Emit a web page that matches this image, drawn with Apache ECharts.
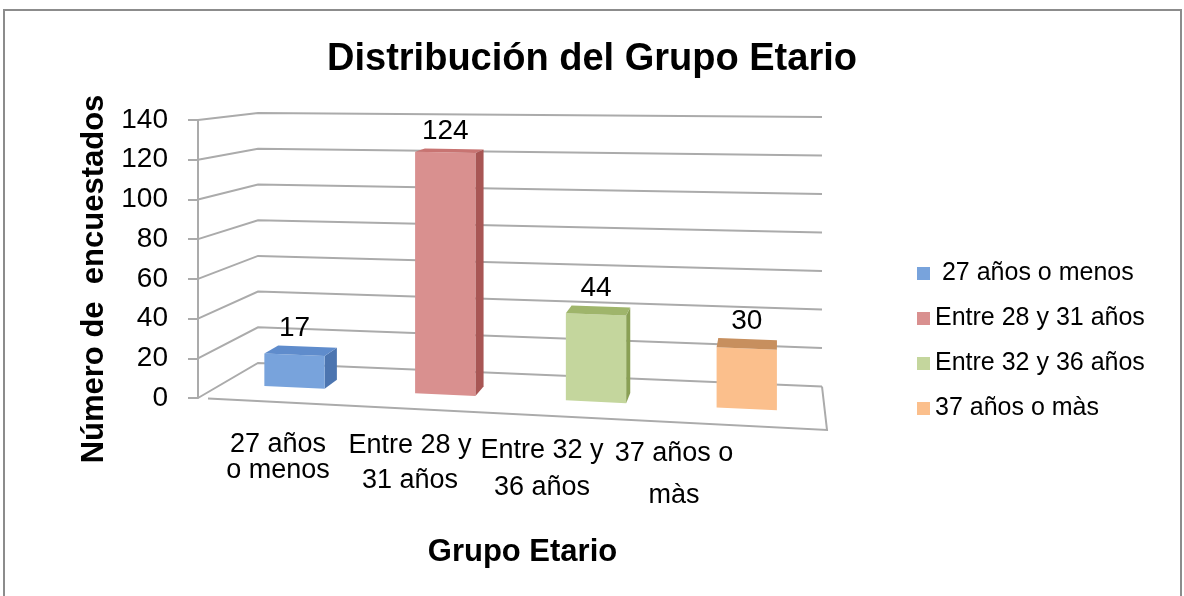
<!DOCTYPE html>
<html>
<head>
<meta charset="utf-8">
<script src="https://cdn.jsdelivr.net/npm/echarts@6/dist/echarts.min.js"></script>
<style>
  html, body { margin: 0; padding: 0; background: #fff; }
  #chart { width: 1184px; height: 596px; }
</style>
</head>
<body>
<div id="chart"></div>
<script>
var categories = ['27 años\no menos', 'Entre 28 y\n31 años', 'Entre 32 y\n36 años', '37 años o\nmàs'];
var legendNames = [' 27 años o menos', 'Entre 28 y 31 años', 'Entre 32 y 36 años', '37 años o màs'];
var values = [17, 124, 44, 30];
var yTicks = [0, 20, 40, 60, 80, 100, 120, 140];

var FONT = 'Liberation Sans, Arial, sans-serif';
var faceColors = [
    { front: '#78a3dc', top: '#5f8ccc', side: '#4c75b0' },
    { front: '#d9908f', top: '#c87472', side: '#a85654' },
    { front: '#c4d69d', top: '#9fb56b', side: '#8aa055' },
    { front: '#fbbf8c', top: '#c78f5e', side: '#d08448' }
];
// category labels drift down to the right (perspective in the original)
var labelPad = [4, 0, 4, 5];
var labelLine = [26, 35, 37, 42];

// fake perspective: flat (x, height) -> screen point at depth d (0 front, 1 back)
function project(cs, x, h, d) {
    var x0 = cs.x, W = cs.width, y0 = cs.y + cs.height;
    var t = (x - x0) / W;
    var fx = x;
    var fy = y0 + t * 32 - h * (1 + 0.06 * t);
    var bx = x0 + 60 + t * 564;
    var by = y0 - 35 + t * 23.5 - h * (0.899 + 0.07 * t);
    return [fx + (bx - fx) * d, fy + (by - fy) * d];
}

function renderGrid(params, api) {
    var cs = params.coordSys;
    var y0 = cs.y + cs.height;
    var h = y0 - api.coord([0, api.value(1)])[1];
    var xl = cs.x, xr = cs.x + cs.width;
    var lineStyle = { stroke: '#ababab', lineWidth: 2, fill: null };
    var children = [{
        type: 'polyline',
        shape: { points: [project(cs, xl, h, 0), project(cs, xl, h, 1), project(cs, xr, h, 1)] },
        style: lineStyle
    }];
    if (api.value(1) === 0) {
        children.push({
            type: 'polyline',
            shape: { points: [project(cs, xl + 10, 0, 0), project(cs, xr, 0, 0), project(cs, xr, 0, 1)] },
            style: lineStyle
        });
    }
    return { type: 'group', children: children };
}

function makeBarRender(idx) {
    return function (params, api) {
        var cs = params.coordSys;
        var y0 = cs.y + cs.height;
        var pt = api.coord([api.value(0), api.value(1)]);
        var h = y0 - pt[1];
        var bw = api.size([1, 0])[0] * 0.4;
        var cx = pt[0] - 3;
        var xl = cx - bw / 2, xr = cx + bw / 2;
        var d0 = 0.4, d1 = 0.65;
        var c = faceColors[idx];
        var front = [project(cs, xl, 0, d0), project(cs, xr, 0, d0), project(cs, xr, h, d0), project(cs, xl, h, d0)];
        var side = [project(cs, xr, 0, d0), project(cs, xr, 0, d1), project(cs, xr, h, d1), project(cs, xr, h, d0)];
        var top = [project(cs, xl, h, d0), project(cs, xr, h, d0), project(cs, xr, h, d1), project(cs, xl, h, d1)];
        var lab = project(cs, cx, h, d1);
        var labX = project(cs, cx, h, d0)[0];
        return {
            type: 'group',
            children: [
                { type: 'polygon', shape: { points: side }, style: { fill: c.side } },
                { type: 'polygon', shape: { points: front }, style: { fill: c.front } },
                { type: 'polygon', shape: { points: top }, style: { fill: c.top } },
                {
                    type: 'text',
                    style: {
                        text: String(api.value(1)), x: labX, y: lab[1] - 4,
                        align: 'center', verticalAlign: 'bottom',
                        fontSize: 28, fontFamily: FONT, fill: '#000'
                    }
                }
            ]
        };
    };
}

var series = [{
    type: 'custom',
    name: 'grid',
    xAxisIndex: 0, yAxisIndex: 0,
    silent: true, clip: false, z: 1,
    renderItem: renderGrid,
    data: yTicks.map(function (v) { return [0, v]; })
}];
values.forEach(function (v, i) {
    series.push({
        type: 'custom',
        name: legendNames[i],
        xAxisIndex: 0, yAxisIndex: 0,
        clip: false, z: 5,
        itemStyle: { color: faceColors[i].front },
        renderItem: makeBarRender(i),
        data: [[i, v]]
    });
});

var myChart = echarts.init(document.getElementById('chart'));
var option = {
    backgroundColor: '#fff',
    animation: false,
    textStyle: { fontFamily: FONT, color: '#000' },
    title: {
        text: 'Distribución del Grupo Etario',
        left: 'center', top: 36,
        textStyle: { fontSize: 38, fontWeight: 'bold', color: '#000', fontFamily: FONT }
    },
    graphic: [{
        type: 'rect',
        shape: { x: 4, y: 10, width: 1177, height: 600 },
        style: { fill: null, stroke: '#8c8c8c', lineWidth: 2 },
        silent: true
    }],
    legend: {
        orient: 'vertical',
        left: 917, top: 261, padding: 0,
        itemWidth: 13, itemHeight: 13, itemGap: 20,
        icon: 'rect', selectedMode: false,
        data: legendNames,
        textStyle: { fontSize: 25, color: '#000', fontFamily: FONT }
    },
    grid: [
        { left: 198, top: 120, width: 629, height: 278 },
        { left: 212, top: 120, width: 528, height: 300 }
    ],
    xAxis: [{
        type: 'category', gridIndex: 0,
        data: categories,
        axisLine: { show: false }, axisTick: { show: false }, axisLabel: { show: false },
        name: 'Grupo Etario', nameLocation: 'middle', nameGap: 139,
        nameTextStyle: { fontSize: 31, fontWeight: 'bold', color: '#000', fontFamily: FONT, padding: [0, 0, 0, 20] }
    }, {
        type: 'category', gridIndex: 1,
        data: categories.map(function (c, i) {
            return { value: c, textStyle: { padding: [labelPad[i], 0, 0, 0], lineHeight: labelLine[i] } };
        }),
        axisLine: { show: false }, axisTick: { show: false },
        axisLabel: { fontSize: 27, lineHeight: 33, margin: 8, color: '#000', fontFamily: FONT, interval: 0 }
    }],
    yAxis: [{
        type: 'value', gridIndex: 0,
        min: 0, max: 140, interval: 20,
        axisLine: { show: true, lineStyle: { color: '#ababab', width: 2 } },
        axisTick: { show: true, length: 10, lineStyle: { color: '#ababab', width: 2 } },
        axisLabel: { fontSize: 28, margin: 30, color: '#000', fontFamily: FONT },
        splitLine: { show: false },
        name: 'Número de  encuestados', nameLocation: 'middle', nameGap: 86, nameRotate: 90,
        nameTextStyle: { fontSize: 31, fontWeight: 'bold', color: '#000', fontFamily: FONT, padding: [0, 40, 0, 0] }
    }, {
        type: 'value', gridIndex: 1, show: false
    }],
    series: series
};
myChart.setOption(option);
</script>
</body>
</html>
